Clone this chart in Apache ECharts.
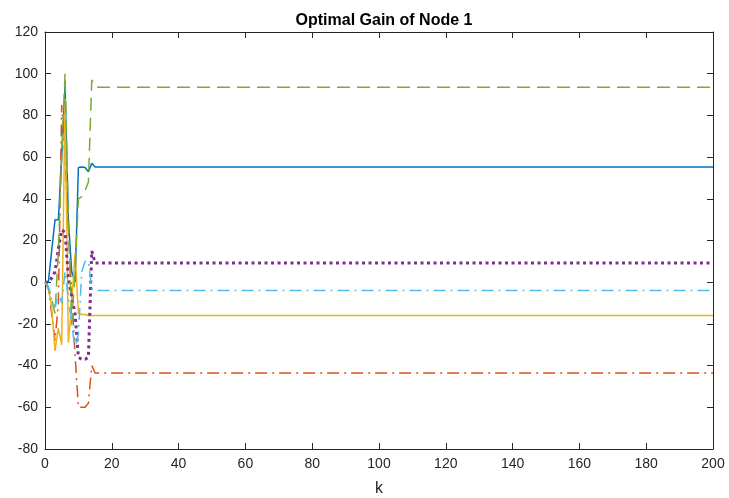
<!DOCTYPE html>
<html>
<head>
<meta charset="utf-8">
<script src="https://cdn.jsdelivr.net/npm/echarts@6/dist/echarts.min.js"></script>
<style>
  html, body { margin: 0; padding: 0; background: #fff; }
  #chart { width: 729px; height: 498px; }
</style>
</head>
<body>
<div id="chart"></div>
<script>
// time steps: transient 0..16, then flat until 200
var kSteps = [0, 1, 2, 3, 4, 5, 6, 7, 8, 9, 10, 11, 12, 13, 14, 15, 16, 200];

var gain1 = [0, 0, 15, 30, 30, 60, 94, 30, 5, 0, 55, 55.3, 55, 53, 57, 55.3, 55.3, 55.3];
var gain2 = [0, -3, -15, -28, -10, 85, 60, 25, -5, -35, -60, -60, -60, -58, -40, -43.5, -43.5, -43.5];
var gain3 = [0, -3, -12, -33, -22, -30, 88, -29, -10, 14, -15, -15.5, -15.5, -16, -16, -16, -16, -16];
var gain4 = [0, 0, 2, 5, 16, 25, 24, 2, -7, -15, -36, -37, -37, -36, 15, 9.2, 9.2, 9.2];
var gain5 = [0, -3, -8, -15, 15, 60, 100, 30, -20, 5, 40, 41, 44, 48, 97, 94, 93.5, 93.5];
var gain6 = [0, -2, -8, -12, -5, -10, 5, -8, -20, -32, -25, 5, 10, 10, -3, -4, -4, -4];

var xTicks = [0, 20, 40, 60, 80, 100, 120, 140, 160, 180, 200];
var yTicks = [-80, -60, -40, -20, 0, 20, 40, 60, 80, 100, 120];

function pairs(vals) {
  return kSteps.map(function (k, i) { return [k, vals[i]]; });
}

var axisColor = '#262626';
var font = 'Liberation Sans, Arial, sans-serif';

var chart = echarts.init(document.getElementById('chart'));

function mkSeries(vals, color, width, dash) {
  return {
    type: 'line',
    data: pairs(vals),
    showSymbol: false,
    symbol: 'none',
    lineStyle: { color: color, width: width, type: dash, cap: 'butt' },
    xAxisIndex: 0,
    yAxisIndex: 0
  };
}

chart.setOption({
  animation: false,
  backgroundColor: '#fff',
  title: {
    text: 'Optimal Gain of Node 1',
    left: 379,
    textAlign: 'center',
    top: 8,
    textStyle: { fontFamily: font, fontSize: 16, fontWeight: 'bold', color: '#000' }
  },
  grid: { left: 45, right: 16, top: 32, bottom: 49, containLabel: false, outerBoundsMode: 'none' },
  xAxis: [{
    type: 'value',
    min: 0, max: 200, interval: 20,
    name: 'k',
    nameLocation: 'middle',
    nameGap: 32,
    nameTextStyle: { fontFamily: font, fontSize: 16, color: axisColor },
    axisLine: { show: true, onZero: false, lineStyle: { color: axisColor, width: 1 } },
    axisTick: { show: true, inside: true, length: 6, lineStyle: { color: axisColor } },
    axisLabel: { fontFamily: font, fontSize: 14, color: axisColor, margin: 8 },
    splitLine: { show: false }
  }, {
    type: 'value',
    position: 'top',
    min: 0, max: 200, interval: 20,
    axisLine: { show: true, onZero: false, lineStyle: { color: axisColor, width: 1 } },
    axisTick: { show: true, inside: true, length: 6, lineStyle: { color: axisColor } },
    axisLabel: { show: false },
    splitLine: { show: false }
  }],
  yAxis: [{
    type: 'value',
    min: -80, max: 120, interval: 20,
    axisLine: { show: true, onZero: false, lineStyle: { color: axisColor, width: 1 } },
    axisTick: { show: true, inside: true, length: 6, lineStyle: { color: axisColor } },
    axisLabel: { fontFamily: font, fontSize: 14, color: axisColor, margin: 7 },
    splitLine: { show: false }
  }, {
    type: 'value',
    position: 'right',
    min: -80, max: 120, interval: 20,
    axisLine: { show: true, onZero: false, lineStyle: { color: axisColor, width: 1 } },
    axisTick: { show: true, inside: true, length: 6, lineStyle: { color: axisColor } },
    axisLabel: { show: false },
    splitLine: { show: false }
  }],
  series: [
    mkSeries(gain1, '#0072BD', 1.5, 'solid'),
    mkSeries(gain2, '#D95319', 1.5, [12, 5, 2, 5]),
    mkSeries(gain3, '#EDB120', 1.5, 'solid'),
    mkSeries(gain4, '#7E2F8E', 3, [3, 3.5]),
    mkSeries(gain5, '#77AC30', 1.5, [13, 7]),
    mkSeries(gain6, '#4DBEEE', 1.5, [12, 5, 2, 5])
  ]
});
</script>
</body>
</html>
